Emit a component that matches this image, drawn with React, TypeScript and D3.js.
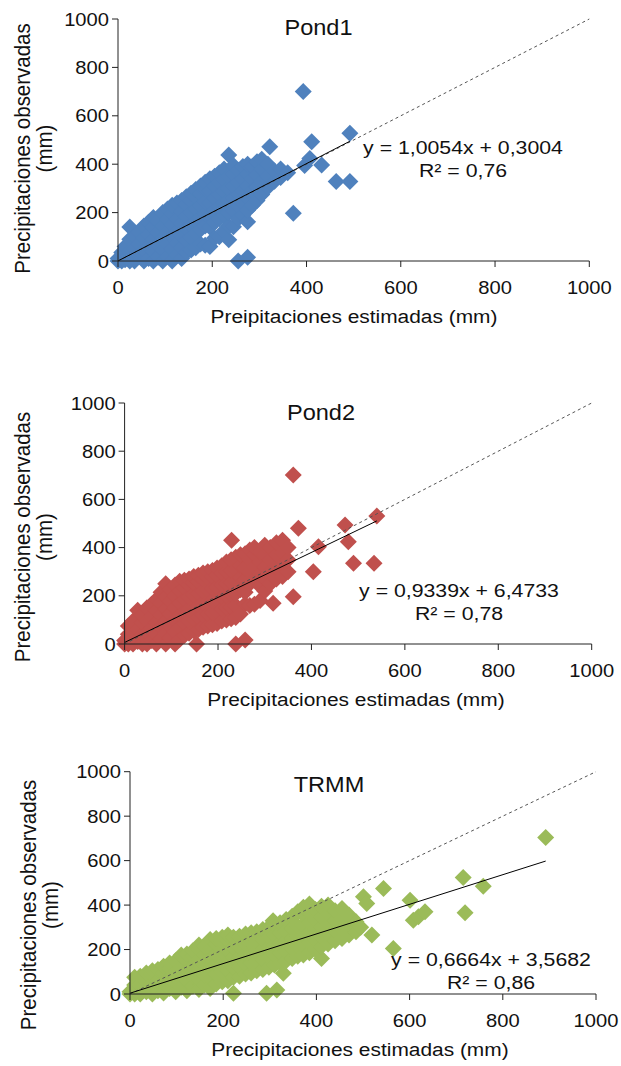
import React from "react";
import * as d3 from "d3";

const axisTicks = [0, 200, 400, 600, 800, 1000];
const panelTitles = ["Pond1", "Pond2", "TRMM"];
const xAxisTitles = [
  "Preipitaciones estimadas (mm)",
  "Precipitaciones estimadas (mm)",
  "Precipitaciones estimadas (mm)",
];
const yAxisTitleLines = ["Precipitaciones observadas", "(mm)"];
const slopes = [1.0054, 0.9339, 0.6664];
const intercepts = [0.3004, 6.4733, 3.5682];
const equationTexts = ["y = 1,0054x + 0,3004", "y = 0,9339x + 6,4733", "y = 0,6664x + 3,5682"];
const r2Texts = ["R² = 0,76", "R² = 0,78", "R² = 0,86"];
const colors = ["#4F81BD", "#C0504D", "#9BBB59"];

const pond1: [number, number][] = [
  [0,0],[0,10],[8,0],[8,35],[15,5],[15,60],[25,0],[25,40],[25,90],[25,140],
  [35,0],[35,50],[35,100],[45,20],[45,70],[45,120],
  [55,0],[55,45],[55,95],[55,145],[65,10],[65,60],[65,110],[65,160],
  [75,0],[75,40],[75,90],[75,140],[75,180],[85,15],[85,65],[85,115],[85,165],
  [95,0],[95,45],[95,95],[95,145],[95,200],[105,20],[105,70],[105,120],[105,170],[105,215],
  [115,0],[115,50],[115,100],[115,150],[115,195],[115,230],
  [125,25],[125,75],[125,125],[125,175],[125,240],
  [135,10],[135,55],[135,105],[135,155],[135,205],[135,250],
  [145,35],[145,85],[145,135],[145,185],[145,235],[145,265],
  [155,45],[155,100],[155,150],[155,200],[155,250],[155,280],
  [165,55],[165,115],[165,165],[165,215],[165,265],[165,295],
  [175,70],[175,130],[175,180],[175,230],[175,280],[175,310],
  [185,65],[185,145],[185,195],[185,245],[185,295],[185,325],
  [195,60],[195,140],[195,190],[195,240],[195,290],[195,340],
  [205,95],[205,160],[205,210],[205,260],[205,310],[205,350],
  [215,100],[215,175],[215,225],[215,275],[215,325],[215,365],
  [225,125],[225,190],[225,240],[225,290],[225,340],[225,380],
  [235,88],[235,145],[235,200],[235,250],[235,300],[235,350],[235,438],
  [245,142],[245,210],[245,260],[245,310],[245,360],[245,395],
  [255,0],[255,175],[255,225],[255,275],[255,325],[255,375],
  [265,190],[265,240],[265,290],[265,340],[265,390],
  [275,15],[275,162],[275,210],[275,260],[275,310],[275,360],[275,400],
  [285,230],[285,290],[285,340],[285,390],
  [295,250],[295,305],[295,355],[295,410],
  [305,275],[305,330],[305,380],[305,420],
  [318,305],[318,350],[318,400],[322,472],
  [332,330],[332,372],[345,345],[345,380],[360,365],
  [372,197],[393,700],[396,395],[407,424],[411,493],[432,397],[463,328],[492,528],[492,328],
];

const pond2: [number, number][] = [
  [0,0],[0,15],[8,0],[8,40],[8,75],[18,0],[18,50],[18,95],
  [28,10],[28,60],[28,140],[38,0],[38,40],[38,90],[38,120],
  [48,0],[48,45],[48,95],[48,150],[58,15],[58,65],[58,115],[58,165],
  [68,0],[68,40],[68,90],[68,140],[68,185],[78,20],[78,70],[78,120],[78,170],[78,215],
  [88,0],[88,45],[88,95],[88,145],[88,195],[88,250],
  [98,25],[98,75],[98,125],[98,175],[98,225],
  [108,0],[108,50],[108,100],[108,150],[108,200],[108,245],
  [118,20],[118,70],[118,120],[118,170],[118,220],[118,260],
  [128,35],[128,85],[128,135],[128,185],[128,235],[128,265],
  [138,45],[138,95],[138,145],[138,195],[138,245],[138,270],
  [148,55],[148,105],[148,155],[148,205],[148,255],[148,280],[154,0],
  [158,60],[158,110],[158,160],[158,210],[158,260],[158,285],
  [168,70],[168,120],[168,170],[168,220],[168,270],[168,295],
  [178,75],[178,125],[178,175],[178,225],[178,275],[178,300],
  [188,80],[188,130],[188,180],[188,230],[188,280],[188,305],
  [198,85],[198,135],[198,185],[198,235],[198,285],[198,315],
  [208,95],[208,145],[208,195],[208,245],[208,295],[208,325],
  [218,100],[218,150],[218,200],[218,250],[218,300],[218,340],
  [228,105],[228,155],[228,205],[228,255],[228,305],[228,350],[229,431],
  [238,0],[238,110],[238,160],[238,210],[238,260],[238,310],[238,360],
  [248,125],[248,225],[248,275],[248,325],[248,370],
  [258,17],[258,165],[258,215],[258,265],[258,315],[258,375],
  [268,160],[268,250],[268,300],[268,350],[268,390],
  [278,165],[278,270],[278,320],[278,370],[278,400],
  [290,180],[290,240],[290,290],[290,340],[290,380],
  [300,220],[300,270],[300,320],[300,370],[300,410],
  [312,250],[312,300],[312,350],[312,400],[318,169],
  [325,270],[325,320],[325,370],[325,420],
  [338,280],[338,330],[338,380],[338,430],
  [350,300],[350,350],[350,400],
  [361,701],[361,196],[372,480],[404,300],[415,404],[472,494],[479,424],[490,335],[534,335],[540,531],
];

const trmm: [number, number][] = [
  [0,0],[0,10],[10,0],[10,40],[10,75],[22,0],[22,40],[22,80],
  [35,10],[35,55],[35,95],[48,0],[48,45],[48,90],[48,105],
  [60,15],[60,60],[60,110],[72,5],[72,50],[72,95],[72,125],
  [85,25],[85,70],[85,115],[85,140],[98,10],[98,55],[98,100],[98,150],
  [110,30],[110,75],[110,120],[110,175],[122,15],[122,60],[122,105],[122,150],[122,180],
  [135,35],[135,80],[135,125],[135,170],[135,195],
  [148,20],[148,65],[148,110],[148,155],[148,200],[148,220],
  [160,40],[160,85],[160,130],[160,175],[160,215],
  [172,25],[172,70],[172,115],[172,160],[172,205],[172,245],
  [185,45],[185,90],[185,135],[185,180],[185,225],[185,250],
  [198,55],[198,100],[198,145],[198,190],[198,235],[198,255],
  [210,60],[210,105],[210,150],[210,195],[210,240],[210,265],
  [222,3],[222,75],[222,120],[222,165],[222,210],[222,255],
  [235,80],[235,125],[235,170],[235,215],[235,260],
  [248,90],[248,135],[248,180],[248,225],[248,270],
  [260,95],[260,140],[260,185],[260,230],[260,275],
  [272,105],[272,150],[272,195],[272,240],[272,280],
  [285,110],[285,155],[285,200],[285,245],[285,290],
  [293,3],[298,120],[298,165],[298,210],[298,255],[298,300],[307,330],
  [310,130],[310,175],[310,220],[310,265],[310,310],[315,18],
  [322,140],[322,185],[322,230],[322,275],[322,320],[329,93],
  [335,150],[335,195],[335,240],[335,285],[335,335],
  [348,160],[348,205],[348,250],[348,295],[348,350],
  [360,170],[360,215],[360,260],[360,305],[360,370],
  [372,175],[372,220],[372,265],[372,310],[372,355],[372,390],
  [385,185],[385,230],[385,275],[385,320],[385,365],[385,405],
  [398,200],[398,245],[398,290],[398,335],[398,380],
  [411,160],[411,215],[411,260],[411,305],[411,350],[411,395],
  [425,225],[425,270],[425,315],[425,360],[425,400],
  [440,240],[440,285],[440,330],[440,375],
  [455,250],[455,295],[455,340],[455,385],
  [470,265],[470,310],[470,355],
  [485,280],[485,325],[495,300],
  [501,437],[508,407],[519,265],[544,475],[565,205],[601,422],[608,332],[619,347],[633,370],
  [715,524],[719,365],[758,485],[892,704],
];

const seriesData = [pond1, pond2, trmm];

const layout = [
  { x0: 118, x1: 589.3, y0: 261, y1: 19, titleX: 318.5, titleY: 35, eqX: 463, eqY: 154, xtX: 354, xtY: 323, ytX: 30, ytY: 148.5 },
  { x0: 124.6, x1: 591.7, y0: 644, y1: 403, titleX: 321, titleY: 420, eqX: 459, eqY: 597, xtX: 356, xtY: 706, ytX: 30, ytY: 537 },
  { x0: 130, x1: 596, y0: 994, y1: 771.7, titleX: 329, titleY: 792, eqX: 491, eqY: 966, xtX: 360, xtY: 1056, ytX: 36, ytY: 905 },
];

const FONT = "'Liberation Sans', Arial, sans-serif";

function T({ x, y, size, anchor = "middle", sx = 1.1, rotate = false, children }: any) {
  const tr = rotate
    ? `translate(${x},${y}) rotate(-90) scale(1,${sx})`
    : `translate(${x},${y}) scale(${sx},1)`;
  return (
    <text transform={tr} textAnchor={anchor} fontSize={size} fontFamily={FONT} fontWeight={400} fill="#111">
      {children}
    </text>
  );
}

const diamond = "M0,-8.5L8.5,0L0,8.5L-8.5,0Z";

function Panel({ i }: { i: number }) {
  const L = layout[i];
  const data = seriesData[i];
  const x = d3.scaleLinear().domain([0, 1000]).range([L.x0, L.x1]);
  const y = d3.scaleLinear().domain([0, 1000]).range([L.y0, L.y1]);
  const xMax = d3.max(data, (d) => d[0]) as number;
  const xMin = d3.min(data, (d) => d[0]) as number;
  const line = d3.line<[number, number]>().x((d) => x(d[0])).y((d) => y(d[1]));
  const fit: [number, number][] = [
    [xMin, slopes[i] * xMin + intercepts[i]],
    [xMax, slopes[i] * xMax + intercepts[i]],
  ];
  const ident: [number, number][] = [[0, 0], [1000, 1000]];
  return (
    <g>
      {data.map((d, k) => (
        <path key={k} d={diamond} transform={`translate(${x(d[0])},${y(d[1])})`} fill={colors[i]} />
      ))}
      <path d={line(ident) || ""} stroke="#555" strokeWidth={1} strokeDasharray="3,3" fill="none" />
      <path d={line(fit) || ""} stroke="#000" strokeWidth={1} fill="none" />
      <line x1={L.x0} x2={L.x0} y1={L.y0} y2={L.y1} stroke="#222" strokeWidth={1} />
      <line x1={L.x0} x2={L.x1} y1={L.y0} y2={L.y0} stroke="#222" strokeWidth={1} />
      {axisTicks.map((t) => (
        <g key={"y" + t}>
          <line x1={L.x0 - 6} x2={L.x0} y1={y(t)} y2={y(t)} stroke="#222" strokeWidth={1} />
          <T x={L.x0 - 9} y={y(t) + 6.5} size={18} anchor="end" sx={1.12}>{t}</T>
        </g>
      ))}
      {axisTicks.map((t) => (
        <g key={"x" + t}>
          <line x1={x(t)} x2={x(t)} y1={L.y0} y2={L.y0 + 6} stroke="#222" strokeWidth={1} />
          <T x={x(t)} y={L.y0 + 33} size={18} sx={1.12}>{t}</T>
        </g>
      ))}
      <T x={L.titleX} y={L.titleY} size={22} sx={1.07}>{panelTitles[i]}</T>
      <T x={L.eqX} y={L.eqY} size={19} sx={1.12}>{equationTexts[i]}</T>
      <T x={L.eqX} y={L.eqY + 23} size={19} sx={1.12}>{r2Texts[i]}</T>
      <T x={L.xtX} y={L.xtY} size={19} sx={1.1}>{xAxisTitles[i]}</T>
      <T x={L.ytX} y={L.ytY} size={20.5} sx={1.1} rotate>{yAxisTitleLines[0]}</T>
      <T x={L.ytX + 22} y={L.ytY} size={20.5} sx={1.1} rotate>{yAxisTitleLines[1]}</T>
    </g>
  );
}

export default function App() {
  return (
    <div style={{ position: "absolute", left: 0, top: 0 }}>
      <svg width={621} height={1066} style={{ display: "block", background: "#fff" }}>
        {[0, 1, 2].map((i) => (
          <Panel key={i} i={i} />
        ))}
      </svg>
    </div>
  );
}
